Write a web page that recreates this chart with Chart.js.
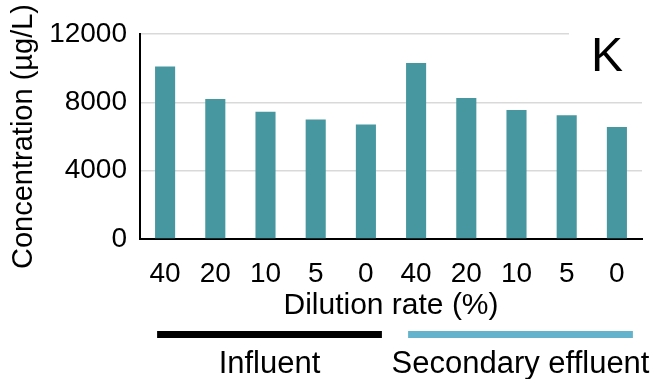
<!DOCTYPE html>
<html>
<head>
<meta charset="utf-8">
<script src="https://cdn.jsdelivr.net/npm/chart.js@4/dist/chart.umd.min.js"></script>
<style>
  html, body { margin: 0; padding: 0; background: #ffffff; }
  #wrap { width: 656px; height: 379px; }
</style>
</head>
<body>
<div id="wrap"><canvas id="chart" width="656" height="379"></canvas></div>
<script>
// Dilution rates for each sample (influent first, then secondary effluent)
const categories = ['40', '20', '10', '5', '0', '40', '20', '10', '5', '0'];
// K concentration, µg/L
const concentration = [10100, 8200, 7450, 7000, 6700, 10300, 8250, 7550, 7250, 6550];
// Labelled y ticks (grid lines are drawn every 2000)
const yTickLabels = [0, 4000, 8000, 12000];
// Sample groups under the axis: name and first/last category index
const groupNames = ['Influent', 'Secondary effluent'];
const groupFirst = [0, 5];
const groupLast = [4, 9];
const panelLetter = 'K';

const FONT = "'Liberation Sans', Arial, sans-serif";
const groupColors = ['#000000', '#62b3cb'];

// Panel letter on a white patch, plus the coloured group bands below the x axis
const annotations = {
  id: 'annotations',
  afterDatasetsDraw(chart) {
    const { ctx, chartArea } = chart;
    ctx.save();
    ctx.fillStyle = '#ffffff';
    ctx.fillRect(chartArea.right - 73, chartArea.top - 6, 73, 56);
    ctx.fillStyle = '#000000';
    ctx.font = '48px ' + FONT;
    ctx.textAlign = 'left';
    ctx.textBaseline = 'alphabetic';
    ctx.fillText(panelLetter, chartArea.right - 51, chartArea.top + 37);
    ctx.restore();
  },
  afterDraw(chart) {
    const { ctx } = chart;
    const x = chart.scales.x;
    ctx.save();
    groupNames.forEach((name, i) => {
      const x0 = x.getPixelForValue(groupFirst[i]) - 8;
      const x1 = x.getPixelForValue(groupLast[i]) + 16;
      ctx.fillStyle = groupColors[i];
      ctx.fillRect(x0, 331, x1 - x0, 7);
      ctx.fillStyle = '#000000';
      ctx.font = '31px ' + FONT;
      ctx.textAlign = 'center';
      ctx.textBaseline = 'alphabetic';
      ctx.fillText(name, (x0 + x1) / 2, 373);
    });
    ctx.restore();
  }
};

new Chart(document.getElementById('chart'), {
  type: 'bar',
  data: {
    labels: categories,
    datasets: [{
      data: concentration,
      backgroundColor: '#46979f',
      borderWidth: 0,
      barPercentage: 0.4,
      categoryPercentage: 1.0
    }]
  },
  options: {
    responsive: false,
    animation: false,
    devicePixelRatio: 1,
    layout: { padding: { top: 34, right: 14, left: 0, bottom: 0 } },
    plugins: {
      legend: { display: false },
      tooltip: { enabled: false }
    },
    scales: {
      x: {
        grid: { display: false, drawTicks: false },
        border: { display: true, color: '#000000', width: 2 },
        ticks: {
          color: '#000000',
          font: { family: FONT, size: 28 },
          padding: 18,
          maxRotation: 0,
          autoSkip: false
        },
        title: {
          display: true,
          text: 'Dilution rate (%)',
          color: '#000000',
          font: { family: FONT, size: 30 },
          padding: { top: 0, bottom: 55 }
        },
        afterFit(scale) { scale.height = 140; }
      },
      y: {
        min: 0,
        max: 12000,
        grid: { color: '#d9d9d9', lineWidth: 1.5, drawTicks: false },
        border: { display: true, color: '#000000', width: 2 },
        ticks: {
          stepSize: 2000,
          color: '#000000',
          font: { family: FONT, size: 28 },
          padding: 13,
          callback: (v) => yTickLabels.includes(v) ? String(v) : ''
        },
        title: {
          display: true,
          text: 'Concentration (µg/L)',
          color: '#000000',
          font: { family: FONT, size: 29 },
          padding: { top: 7, bottom: 0 }
        },
        afterFit(scale) { scale.width = 140; }
      }
    }
  },
  plugins: [annotations]
});
</script>
</body>
</html>
